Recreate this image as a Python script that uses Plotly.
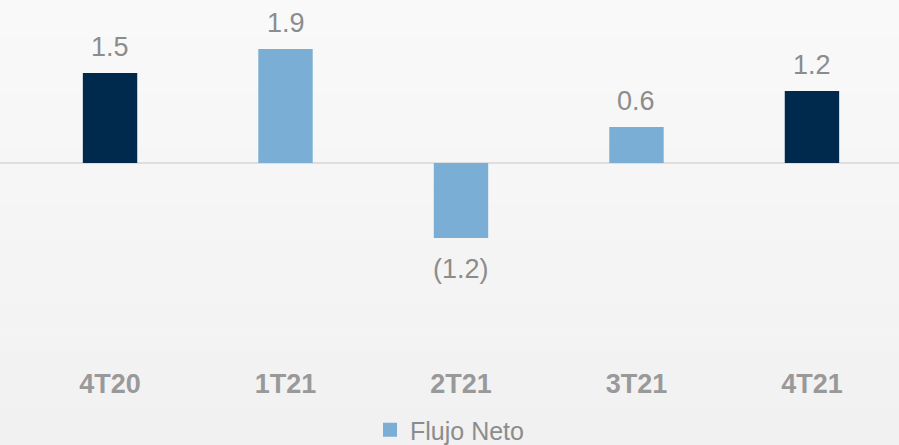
import plotly.graph_objects as go

categories = ["4T20", "1T21", "2T21", "3T21", "4T21"]
values = [1.5, 1.9, -1.25, 0.6, 1.2]
value_labels = ["1.5", "1.9", "(1.2)", "0.6", "1.2"]
bar_colors = ["#002a4d", "#7aaed4", "#7aaed4", "#7aaed4", "#002a4d"]
series_name = "Flujo Neto"
legend_color = "#7aaed4"

W, H = 899, 445
MB = 90
plot_h = H - MB

fig = go.Figure()
fig.add_trace(go.Bar(
    x=categories, y=values, marker=dict(color=bar_colors, line=dict(width=0)),
    width=0.31, showlegend=False, hoverinfo="skip",
))
fig.add_trace(go.Scatter(
    x=[None], y=[None], mode="markers", name=series_name,
    marker=dict(symbol="square", size=14, color=legend_color),
))

for c, v, t in zip(categories, values, value_labels):
    fig.add_annotation(
        x=c, y=v, text=t, showarrow=False,
        yanchor="bottom" if v >= 0 else "top",
        yshift=9 if v >= 0 else -14,
        font=dict(family="Liberation Sans, Arial", size=27, color="#8c8c8c"),
    )

# soft vertical background gradient
n = 24
top_c, bot_c = (249, 249, 249), (241, 241, 241)
y_bottom = -MB / plot_h
for i in range(n):
    f = i / (n - 1)
    col = tuple(round(top_c[k] + (bot_c[k] - top_c[k]) * f) for k in range(3))
    y1 = 1 - (1 - y_bottom) * i / n
    y0 = 1 - (1 - y_bottom) * (i + 1) / n
    fig.add_shape(type="rect", xref="paper", yref="paper", x0=0, x1=1, y0=y0, y1=y1,
                  fillcolor="rgb(%d,%d,%d)" % col, line=dict(width=0), layer="below")

fig.update_layout(
    width=W, height=H,
    margin=dict(l=0, r=0, t=0, b=MB, autoexpand=False),
    paper_bgcolor="#f5f5f5", plot_bgcolor="rgba(0,0,0,0)",
    barmode="overlay",
    font=dict(family="Liberation Sans, Arial", color="#8c8c8c"),
    xaxis=dict(
        range=[-0.627, 4.496], showgrid=False, showline=False, zeroline=False,
        ticks="outside", ticklen=5, tickcolor="rgba(0,0,0,0)", automargin=False,
        tickfont=dict(family="Liberation Sans, Arial", size=27, color="#999999", weight="bold"),
        fixedrange=True,
    ),
    yaxis=dict(
        range=[-(plot_h - 163) / 60, 163 / 60], showgrid=False, showticklabels=False,
        zeroline=True, zerolinecolor="#dedede", zerolinewidth=2, showline=False,
        automargin=False,
    ),
    legend=dict(
        orientation="h", x=0.5, xanchor="center",
        yref="container", y=(H - 430) / H, yanchor="middle",
        font=dict(family="Liberation Sans, Arial", size=25, color="#8c8c8c"),
        bgcolor="rgba(0,0,0,0)", itemwidth=30,
    ),
    showlegend=True,
)

fig.write_html(
    "out.html",
    config={"displayModeBar": False},
    post_script="document.body.style.margin='0';document.body.style.background='#f5f5f5';",
)
